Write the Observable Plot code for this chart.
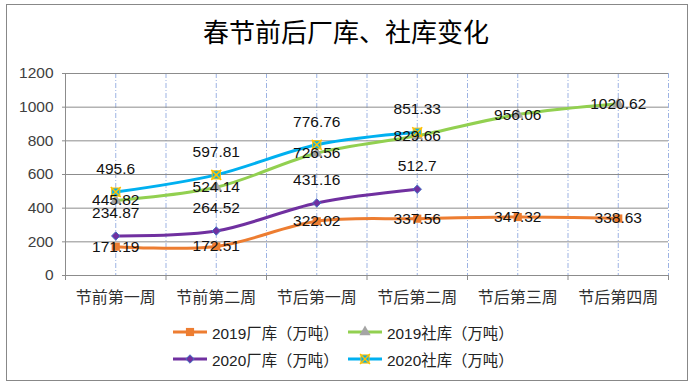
<!DOCTYPE html>
<html>
<head>
<meta charset="utf-8">
<script src="https://cdn.jsdelivr.net/npm/d3@7"></script>
<script src="https://cdn.jsdelivr.net/npm/@observablehq/plot@0.6"></script>
<style>
  body { margin: 0; background: #fff; }
  #wrap { position: relative; width: 692px; height: 387px; background: #fff; font-family: "Liberation Sans", "Noto Sans CJK SC", sans-serif; }
  #frame { position: absolute; left: 6px; top: 4px; width: 682px; height: 377px; border: 1px solid #888; box-sizing: border-box; }
  #title { position: absolute; left: 0; top: 15px; width: 692px; text-align: center; font-size: 26px; color: #000; line-height: 36px; }
  #chart { position: absolute; left: 0; top: 60px; }
  #legend { position: absolute; left: 0; top: 320px; width: 692px; font-size: 15.4px; color: #222; }
  .item { position: absolute; height: 24px; display: flex; align-items: center; white-space: nowrap; }
  .item svg { margin-right: 4px; }
</style>
</head>
<body>
<div id="wrap">
  <div id="frame"></div>
  <div id="title">春节前后厂库、社库变化</div>
  <div id="chart"></div>
  <div id="legend"></div>
</div>
<script>
const categories = ["节前第一周", "节前第二周", "节后第一周", "节后第二周", "节后第三周", "节后第四周"];
const seriesNames = ["2019厂库（万吨）", "2019社库（万吨）", "2020厂库（万吨）", "2020社库（万吨）"];
const factory2019 = [171.19, 172.51, 322.02, 337.56, 347.32, 338.63];
const social2019 = [445.82, 524.14, 726.56, 829.66, 956.06, 1020.62];
const factory2020 = [234.87, 264.52, 431.16, 512.7];
const social2020 = [495.6, 597.81, 776.76, 851.33];
const yTicks = [0, 200, 400, 600, 800, 1000, 1200];

const seriesValues = [factory2019, social2019, factory2020, social2020];
const colors = ["#ED7D31", "#92D050", "#7030A0", "#00B0F0"];
const labelDy = [0, 0, -23, -23];

const rows = seriesValues.map((vals, s) => vals.map((v, i) => ({series: seriesNames[s], s, i, v})));

const centers = categories.map((_, i) => i);
const bounds = d3.range(categories.length + 1).map(i => i - 0.5);
const vGrid = centers.concat(bounds.slice(1));

const marks = [
  Plot.gridX(vGrid, {stroke: "#9DB3E3", strokeOpacity: 1, strokeDasharray: "5,2,1,2"}),
  Plot.gridY(yTicks.slice(1), {stroke: "#8c8c8c", strokeOpacity: 1}),
  Plot.ruleY([0], {stroke: "#8c8c8c"}),
  Plot.ruleX([-0.5], {stroke: "#8c8c8c"}),
  Plot.axisY({ticks: yTicks, tickFormat: d => String(d), label: null, tickSize: 3, tickPadding: 9, stroke: "#8c8c8c", fill: "#404040", fontSize: 15.5}),
  Plot.axisX({ticks: centers, tickFormat: i => categories[i], label: null, tickSize: 0, tickPadding: 16, fill: "#303030", fontSize: 16}),
  Plot.axisX({ticks: bounds, tickFormat: () => "", label: null, tickSize: 5, stroke: "#8c8c8c"})
];

const markerStyles = [
  [{symbol: "square", r: 4.6, fill: colors[0], stroke: "none"}],
  [{symbol: "triangle", r: 4.2, fill: "#A5A5A5", stroke: "none"}],
  [{symbol: "diamond2", r: 3.8, fill: colors[2], stroke: "#4472C4", strokeWidth: 1}],
  [{symbol: "square", r: 4.6, fill: colors[3], stroke: "#FFC000", strokeWidth: 1},
   {symbol: "times", r: 4.6, fill: "none", stroke: "#FFC000", strokeWidth: 1.5}]
];

rows.forEach((data, s) => {
  marks.push(Plot.line(data, {x: "i", y: "v", stroke: colors[s], strokeWidth: 3, curve: "catmull-rom"}));
  markerStyles[s].forEach(st => marks.push(Plot.dot(data, {x: "i", y: "v", ...st})));
});

rows.forEach((data, s) => {
  marks.push(Plot.text(data, {x: "i", y: "v", text: d => String(d.v), dy: labelDy[s], fontSize: 15.5, fill: "#111"}));
});

const chart = Plot.plot({
  width: 692,
  height: 250,
  marginTop: 13,
  marginBottom: 35,
  marginLeft: 65,
  marginRight: 24,
  style: {fontFamily: "'Liberation Sans', 'Noto Sans CJK SC', sans-serif", background: "transparent", overflow: "visible"},
  x: {type: "linear", domain: [-0.5, categories.length - 0.5], axis: null},
  y: {domain: [0, 1200], axis: null},
  marks
});
document.getElementById("chart").appendChild(chart);

// legend
const legend = document.getElementById("legend");
const pos = [[172, 0], [347, 0], [172, 27], [347, 27]];
seriesNames.forEach((name, s) => {
  const item = document.createElement("div");
  item.className = "item";
  item.style.left = pos[s][0] + "px";
  item.style.top = pos[s][1] + "px";
  const svg = d3.create("svg").attr("width", 36).attr("height", 14);
  svg.append("line").attr("x1", 1).attr("x2", 35).attr("y1", 7).attr("y2", 7)
    .attr("stroke", colors[s]).attr("stroke-width", 3);
  const g = svg.append("g").attr("transform", "translate(18,7)");
  markerStyles[s].forEach(st => {
    const type = {square: d3.symbolSquare, triangle: d3.symbolTriangle, diamond2: d3.symbolDiamond2, times: d3.symbolTimes}[st.symbol];
    g.append("path").attr("d", d3.symbol(type, st.r * st.r * Math.PI)())
      .attr("fill", st.fill).attr("stroke", st.stroke).attr("stroke-width", st.strokeWidth || 0);
  });
  item.appendChild(svg.node());
  const span = document.createElement("span");
  span.textContent = name;
  item.appendChild(span);
  legend.appendChild(item);
});
</script>
</body>
</html>
